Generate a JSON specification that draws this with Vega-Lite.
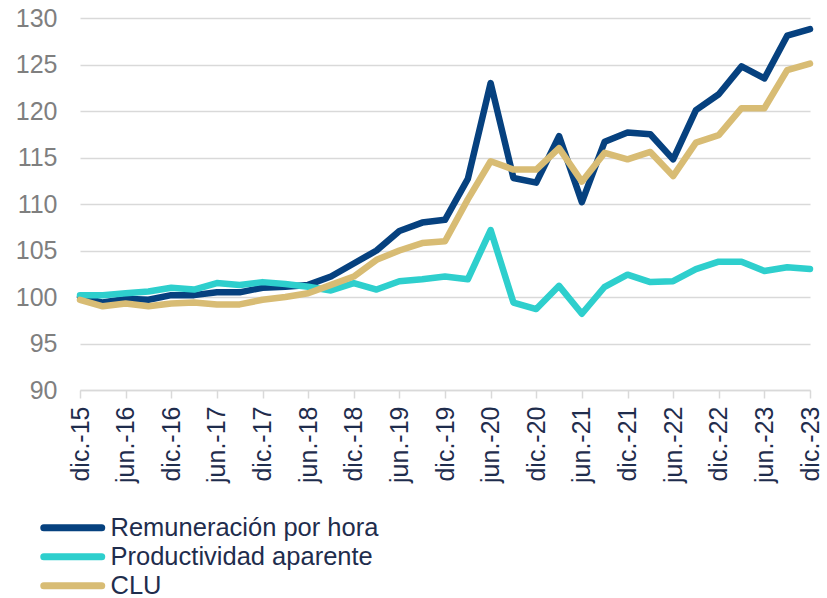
{
  "$schema": "https://vega.github.io/schema/vega-lite/v6.json",
  "autosize": {"type": "none"},
  "width": 738,
  "height": 372,
  "padding": {"left": 80, "top": 18, "right": 9, "bottom": 208},
  "background": "white",
  "config": {
    "view": {"stroke": null},
    "font": "Liberation Sans"
  },
  "data": {
    "values": [
      {"fecha": "dic.-15", "rem": 100.0, "prod": 100.2, "clu": 99.7},
      {"fecha": "mar.-16", "rem": 99.4, "prod": 100.2, "clu": 99.0},
      {"fecha": "jun.-16", "rem": 99.8, "prod": 100.4, "clu": 99.3},
      {"fecha": "sep.-16", "rem": 99.7, "prod": 100.6, "clu": 99.0},
      {"fecha": "dic.-16", "rem": 100.2, "prod": 101.0, "clu": 99.3},
      {"fecha": "mar.-17", "rem": 100.2, "prod": 100.8, "clu": 99.4},
      {"fecha": "jun.-17", "rem": 100.5, "prod": 101.5, "clu": 99.2},
      {"fecha": "sep.-17", "rem": 100.5, "prod": 101.3, "clu": 99.2},
      {"fecha": "dic.-17", "rem": 101.0, "prod": 101.6, "clu": 99.7},
      {"fecha": "mar.-18", "rem": 101.1, "prod": 101.4, "clu": 100.0},
      {"fecha": "jun.-18", "rem": 101.3, "prod": 101.1, "clu": 100.4},
      {"fecha": "sep.-18", "rem": 102.2, "prod": 100.7, "clu": 101.3},
      {"fecha": "dic.-18", "rem": 103.6, "prod": 101.5, "clu": 102.2},
      {"fecha": "mar.-19", "rem": 105.0, "prod": 100.8, "clu": 104.0},
      {"fecha": "jun.-19", "rem": 107.1, "prod": 101.7, "clu": 105.0},
      {"fecha": "sep.-19", "rem": 108.0, "prod": 101.9, "clu": 105.8},
      {"fecha": "dic.-19", "rem": 108.3, "prod": 102.2, "clu": 106.0},
      {"fecha": "mar.-20", "rem": 112.7, "prod": 101.9, "clu": 110.5},
      {"fecha": "jun.-20", "rem": 123.0, "prod": 107.2, "clu": 114.6},
      {"fecha": "sep.-20", "rem": 112.8, "prod": 99.4, "clu": 113.7},
      {"fecha": "dic.-20", "rem": 112.3, "prod": 98.7, "clu": 113.7},
      {"fecha": "mar.-21", "rem": 117.3, "prod": 101.2, "clu": 116.0},
      {"fecha": "jun.-21", "rem": 110.2, "prod": 98.2, "clu": 112.4},
      {"fecha": "sep.-21", "rem": 116.7, "prod": 101.1, "clu": 115.5},
      {"fecha": "dic.-21", "rem": 117.7, "prod": 102.4, "clu": 114.8},
      {"fecha": "mar.-22", "rem": 117.5, "prod": 101.6, "clu": 115.6},
      {"fecha": "jun.-22", "rem": 114.8, "prod": 101.7, "clu": 113.0},
      {"fecha": "sep.-22", "rem": 120.1, "prod": 103.0, "clu": 116.6},
      {"fecha": "dic.-22", "rem": 121.8, "prod": 103.8, "clu": 117.4},
      {"fecha": "mar.-23", "rem": 124.8, "prod": 103.8, "clu": 120.3},
      {"fecha": "jun.-23", "rem": 123.5, "prod": 102.8, "clu": 120.3},
      {"fecha": "sep.-23", "rem": 128.1, "prod": 103.2, "clu": 124.4},
      {"fecha": "dic.-23", "rem": 128.8, "prod": 103.0, "clu": 125.1}
    ]
  },
  "transform": [
    {"fold": ["rem", "prod", "clu"], "as": ["serie", "valor"]}
  ],
  "mark": {"type": "line", "strokeWidth": 6.5, "strokeCap": "round", "strokeJoin": "round"},
  "encoding": {
    "x": {
      "field": "fecha",
      "type": "ordinal",
      "sort": null,
      "scale": {"type": "point", "padding": 0, "range": [0, 730]},
      "axis": {
        "title": null,
        "values": ["dic.-15", "jun.-16", "dic.-16", "jun.-17", "dic.-17", "jun.-18", "dic.-18", "jun.-19", "dic.-19", "jun.-20", "dic.-20", "jun.-21", "dic.-21", "jun.-22", "dic.-22", "jun.-23", "dic.-23"],
        "labelAngle": -90,
        "labelFontSize": 25,
        "labelColor": "#1f2d4d",
        "labelPadding": 8,
        "tickSize": 8,
        "tickColor": "#d9d9d9",
        "tickWidth": 1.5,
        "domainColor": "#d9d9d9",
        "domainWidth": 1.5,
        "grid": false
      }
    },
    "y": {
      "field": "valor",
      "type": "quantitative",
      "scale": {"domain": [90, 130], "nice": false, "zero": false},
      "axis": {
        "title": null,
        "values": [90, 95, 100, 105, 110, 115, 120, 125, 130],
        "labelFontSize": 25,
        "labelColor": "#7f7f7f",
        "labelPadding": 23,
        "ticks": false,
        "domain": false,
        "grid": true,
        "gridColor": "#d9d9d9",
        "gridWidth": 1.5
      }
    },
    "color": {
      "field": "serie",
      "type": "nominal",
      "scale": {
        "domain": ["rem", "prod", "clu"],
        "range": ["#06417f", "#2ecfcd", "#d8bc74"]
      },
      "legend": {
        "orient": "none",
        "legendX": -20,
        "legendY": 497,
        "title": null,
        "padding": 0,
        "direction": "vertical",
        "labelExpr": "datum.value == 'rem' ? 'Remuneración por hora' : datum.value == 'prod' ? 'Productividad aparente' : 'CLU'",
        "labelFontSize": 25.5,
        "labelColor": "#1f2d4d",
        "labelLimit": 0,
        "labelOffset": 25,
        "rowPadding": 0,
        "symbolType": "M-4,0H4",
        "symbolSize": 210,
        "symbolStrokeWidth": 7,
        "encode": {"symbols": {"update": {"strokeCap": {"value": "round"}}}}
      }
    }
  }
}
